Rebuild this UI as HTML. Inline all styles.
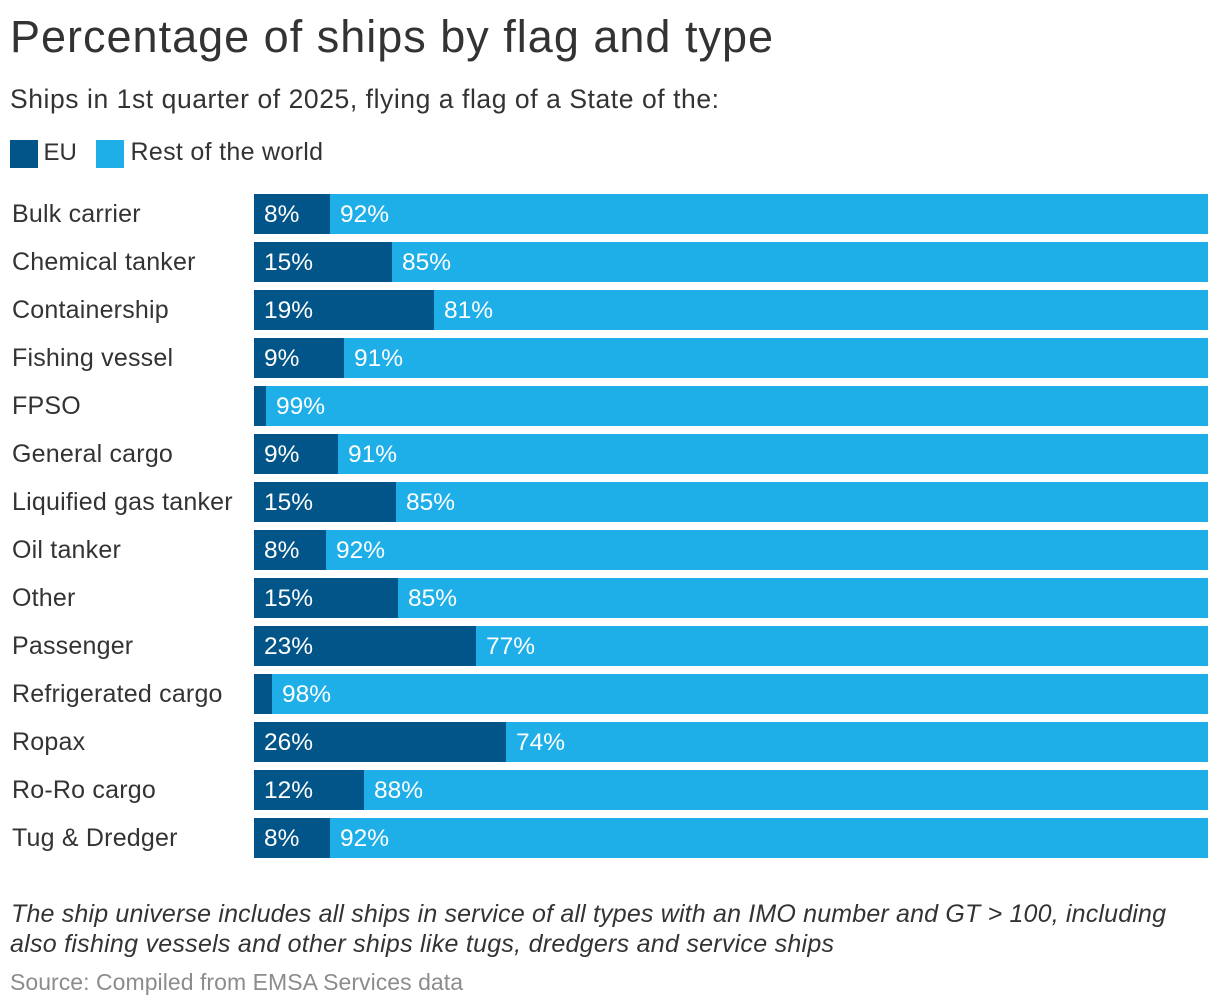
<!DOCTYPE html>
<html lang="en">
<head>
<meta charset="utf-8">
<title>Percentage of ships by flag and type</title>
<style>
html,body{margin:0;padding:0;background:#fff;width:1220px;height:1008px;overflow:hidden}
svg{display:block}
text{font-family:"Liberation Sans",Arial,sans-serif;fill:#333}
.cat{font-size:25px;letter-spacing:.2px}
.val{font-size:24.5px;fill:#fff;letter-spacing:0}
</style>
</head>
<body>
<svg id="chart" xmlns="http://www.w3.org/2000/svg" width="1220" height="1008" viewBox="0 0 1220 1008">
  <text x="10" y="52" font-size="45" textLength="763" lengthAdjust="spacing">Percentage of ships by flag and type</text>
  <text x="10" y="108" font-size="26.5" textLength="709" lengthAdjust="spacing">Ships in 1st quarter of 2025, flying a flag of a State of the:</text>
  <g>
    <rect x="10" y="140" width="28" height="28" fill="#015588"/>
    <text x="43.5" y="160" font-size="24">EU</text>
    <rect x="96" y="140" width="28" height="28" fill="#1fafe8"/>
    <text x="130.5" y="160" font-size="25" textLength="192.5" lengthAdjust="spacing">Rest of the world</text>
  </g>
  <g id="bars"></g>
  <text x="11" y="922" font-size="25" font-style="italic" textLength="1155" lengthAdjust="spacing">The ship universe includes all ships in service of all types with an IMO number and GT &gt; 100, including</text>
  <text x="10" y="952" font-size="25" font-style="italic" textLength="824" lengthAdjust="spacing">also fishing vessels and other ships like tugs, dredgers and service ships</text>
  <text x="10" y="990" font-size="23" textLength="453" lengthAdjust="spacing" style="fill:#8c8c8c">Source: Compiled from EMSA Services data</text>
</svg>
<script>
const categories = ["Bulk carrier","Chemical tanker","Containership","Fishing vessel","FPSO","General cargo","Liquified gas tanker","Oil tanker","Other","Passenger","Refrigerated cargo","Ropax","Ro-Ro cargo","Tug & Dredger"];
const euValues = [8.0,14.51,18.9,9.4,1.3,8.8,14.9,7.51,15.1,23.3,1.9,26.4,11.51,8.0];
const restValues = [92.0,85.49,81.1,90.6,98.7,91.2,85.1,92.49,84.9,76.7,98.1,73.6,88.49,92.0];

const SVG_NS = "http://www.w3.org/2000/svg";
const plotLeft = 254, plotWidth = 954, plotTop = 194, rowStep = 48, barHeight = 40;
const xScale = v => plotLeft + Math.round(v / 100 * plotWidth / 2) * 2;
const yScale = i => plotTop + i * rowStep;
const minLabelValue = 3;
const barsGroup = document.getElementById("bars");

function makeEl(tag, attrs, parent) {
  const el = document.createElementNS(SVG_NS, tag);
  for (const k in attrs) el.setAttribute(k, attrs[k]);
  parent.appendChild(el);
  return el;
}

categories.forEach((cat, i) => {
  const slug = cat.toLowerCase().replace(/[^a-z0-9]+/g, "-");
  const y = yScale(i);
  const eu = euValues[i], rest = restValues[i];

  const row = makeEl("g", {}, barsGroup);
  
  

  const label = makeEl("text", {x: 12, y: y + 28, class: "cat"}, row);
  label.textContent = cat;
  
  

  const euBar = makeEl("rect", {x: xScale(0), y: y, width: xScale(eu) - xScale(0), height: barHeight, fill: "#015588"}, row);
  
  

  const restBar = makeEl("rect", {x: xScale(eu), y: y, width: xScale(eu + rest) - xScale(eu), height: barHeight, fill: "#1fafe8"}, row);
  
  

  if (eu >= minLabelValue) {
    const euText = makeEl("text", {x: xScale(0) + 10, y: y + 28, class: "val"}, row);
    euText.textContent = Math.round(eu) + "%";
    
    
  }

  const restText = makeEl("text", {x: xScale(eu) + 10, y: y + 28, class: "val"}, row);
  restText.textContent = Math.round(rest) + "%";
  
  
});
</script>
</body>
</html>
